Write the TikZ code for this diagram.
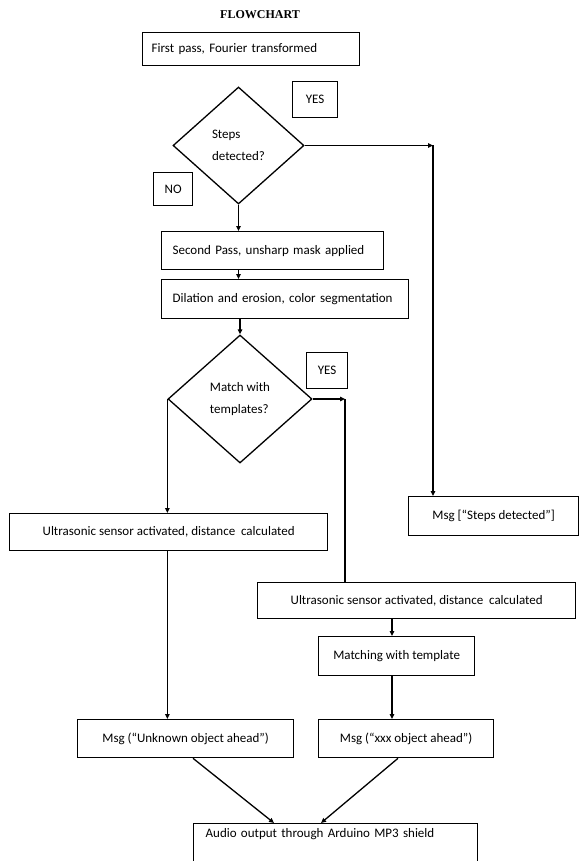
\documentclass[tikz,border=0pt]{standalone}
\usepackage{fontspec}
\setmainfont{Carlito}
\newfontfamily\titlefont{Liberation Serif}
\usetikzlibrary{shapes.geometric,arrows.meta,calc}
\begin{document}
\begin{tikzpicture}[x=1pt,y=-1pt,
  every node/.style={font=\fontsize{13}{15}\selectfont},
  box/.style={draw, line width=1.3pt, fill=white, rectangle, inner sep=0pt, anchor=north west},
  dia/.style={draw, diamond, line width=1.3pt, fill=white, inner sep=0pt, align=left, font=\fontsize{13}{22}\selectfont},
  arr/.style={line width=1.3pt, -{Triangle[length=5pt,width=4.5pt]}},
  ln/.style={line width=1.3pt}]
\useasboundingbox (0,0) rectangle (579,861);
\clip (0,0) rectangle (579,861);
\fill[white] (0,0) rectangle (579,861);

\node[font=\titlefont\bfseries\fontsize{12}{14}\selectfont] (title) at (260,15) {FLOWCHART};

\node[box, minimum height=33pt, text width=199pt, inner xsep=9pt, align=left] (b1) at (142,32) {First pass, Fourier transformed};
\node[dia, minimum width=131pt, minimum height=117pt] (d1) at (238.5,145.5) {Steps\\detected?};
\node[box, minimum width=45pt, minimum height=36pt] (yes1) at (292,81) {YES};
\node[box, minimum width=39pt, minimum height=33pt] (no1) at (153,172) {NO};

\node[box, minimum height=38pt, text width=200pt, inner xsep=11pt, align=left] (b2) at (161,231) {Second Pass, unsharp mask applied};
\node[box, minimum height=39pt, text width=225pt, inner xsep=11pt, align=left] (b3) at (161,279) {Dilation and erosion, color segmentation};

\node[dia, minimum width=144pt, minimum height=128pt] (d2) at (240,399) {Match with\\templates?};
\node[box, minimum width=41pt, minimum height=36pt] (yes2) at (306,352) {YES};

\node[box, minimum width=318pt, minimum height=37pt] (u1) at (9,513) {Ultrasonic sensor activated, distance\ \ calculated};
\node[box, minimum width=170pt, minimum height=39pt] (ms) at (408,496) {Msg [“Steps detected”]};
\node[box, minimum width=318pt, minimum height=36pt] (u2) at (257,582) {Ultrasonic sensor activated, distance\ \ calculated};
\node[box, minimum width=156pt, minimum height=39pt] (match) at (318,636) {Matching with template};
\node[box, minimum width=216pt, minimum height=38pt] (mu) at (77,719) {Msg (“Unknown object ahead”)};
\node[box, minimum width=175pt, minimum height=38pt] (mx) at (318,719) {Msg (“xxx object ahead”)};
\node[box, text width=260pt, inner xsep=12pt, inner ysep=0pt, text height=14pt, text depth=34pt, align=left] (audio) at (193,823) {Audio output through Arduino MP3 shield};

\coordinate (c1) at (433,145.5);
\coordinate (c2) at (345,399);

\draw[arr] (d1.south) -- (d1.south |- b2.north);
\draw[arr] (d1.south |- b2.south) -- (d1.south |- b3.north);
\draw[arr] (d2.north |- b3.south) -- (d2.north);
\draw[arr] (d1.east) -- (c1);
\draw[arr] (c1) -- (c1 |- ms.north);
\draw[arr] (d2.west) -- (d2.west |- u1.north);
\draw[arr] (d2.east) -- (c2);
\draw[ln] (c2) -- (c2 |- u2.north);
\draw[arr] (d2.west |- u1.south) -- (d2.west |- mu.north);
\draw[arr] ($(u2.south west)+(135,0)$) -- ($(match.north west)+(74,0)$);
\draw[arr] ($(match.south west)+(74,0)$) -- ($(mx.north west)+(74,0)$);
\draw[arr] ($(mu.south west)+(116,0)$) -- ($(audio.north west)+(81,0)$);
\draw[arr] ($(mx.south west)+(80,0)$) -- ($(audio.north west)+(128,0)$);
\end{tikzpicture}
\end{document}
